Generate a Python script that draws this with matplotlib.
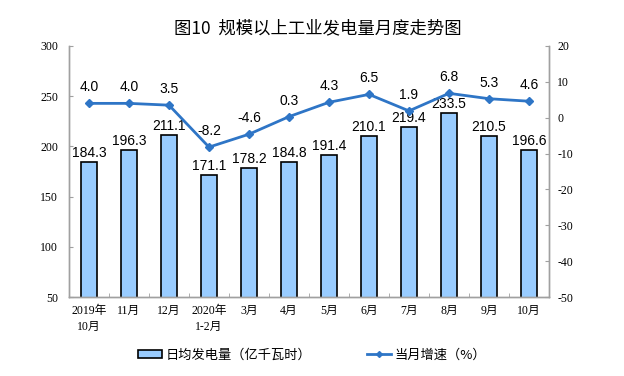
import matplotlib
matplotlib.use("Agg")
import matplotlib.pyplot as plt
from matplotlib.patches import Patch
from matplotlib.lines import Line2D

categories = ["2019年\n10月", "11月", "12月", "2020年\n1-2月", "3月", "4月", "5月", "6月", "7月", "8月", "9月", "10月"]
daily_output = [184.3, 196.3, 211.1, 171.1, 178.2, 184.8, 191.4, 210.1, 219.4, 233.5, 210.5, 196.6]
growth = [4.0, 4.0, 3.5, -8.2, -4.6, 0.3, 4.3, 6.5, 1.9, 6.8, 5.3, 4.6]
left_ticks = [50, 100, 150, 200, 250, 300]
right_ticks = [-50, -40, -30, -20, -10, 0, 10, 20]

CJK = ["Noto Sans CJK SC", "DejaVu Sans"]
SERIF_CJK = ["Liberation Serif", "Noto Sans CJK SC"]
SANS = ["Liberation Sans", "DejaVu Sans"]

bar_color = "#99CCFF"
line_color = "#2E75C6"
spine_color = "#A0A0A0"

fig = plt.figure(figsize=(6.24, 3.76), dpi=100)
ax = fig.add_axes([69/624, 79/376, 480/624, 251/376])
ax2 = ax.twinx()

x = list(range(len(categories)))
ax.bar(x, daily_output, width=0.4, color=bar_color, edgecolor="black", linewidth=1.2, zorder=2)
ax.set_ylim(50, 300)
ax.set_xlim(-0.5, 11.5)
ax.set_yticks(left_ticks)
ax.set_yticklabels([str(t) for t in left_ticks], family=SERIF_CJK, fontsize=8.5)
ax.set_xticks(x)
ax.set_xticklabels(categories, family=SERIF_CJK, fontsize=8.5, linespacing=1.45)
ax.set_xticks([i + 0.5 for i in x[:-1]], minor=True)
ax.tick_params(axis="x", which="major", length=0, pad=6)
ax.tick_params(axis="x", which="minor", length=3, direction="in", color=spine_color)
ax.tick_params(axis="y", length=3, direction="in", color=spine_color, pad=8)

for i, v in zip(x, daily_output):
    ax.text(i, v + 2, f"{v:.1f}", ha="center", va="bottom", family=SANS, fontsize=10, zorder=5)

ax2.plot(x, growth, color=line_color, linewidth=2, marker="D", markersize=4, zorder=3)
ax2.set_ylim(-50, 20)
ax2.set_yticks(right_ticks)
ax2.set_yticklabels([str(t) for t in right_ticks], family=SERIF_CJK, fontsize=8.5)
ax2.tick_params(axis="y", length=3, direction="in", color=spine_color, pad=6)
for i, v in zip(x, growth):
    ax2.text(i, v + 2.5, f"{v:.1f}", ha="center", va="bottom", family=SANS, fontsize=10, zorder=5)

for a in (ax, ax2):
    a.spines["top"].set_visible(False)
    for s in ("left", "right", "bottom"):
        a.spines[s].set_color(spine_color)
        a.spines[s].set_linewidth(1)

fig.text(0.51, 0.925, "图10  规模以上工业发电量月度走势图", ha="center", va="center",
         family=CJK, fontsize=12.5)

handles = [Patch(facecolor=bar_color, edgecolor="black", linewidth=1.2),
           Line2D([0], [0], color=line_color, linewidth=2, marker="D", markersize=3)]
labels = ["日均发电量（亿千瓦时）", "当月增速（%）"]
fig.legend(handles, labels, loc="center", bbox_to_anchor=(0.5, 0.055), ncol=2, frameon=False,
           prop={"family": CJK, "size": 9.5}, columnspacing=4.2, handlelength=1.8,
           handleheight=0.55, handletextpad=0.3)

fig.savefig("out.png", dpi=100)
